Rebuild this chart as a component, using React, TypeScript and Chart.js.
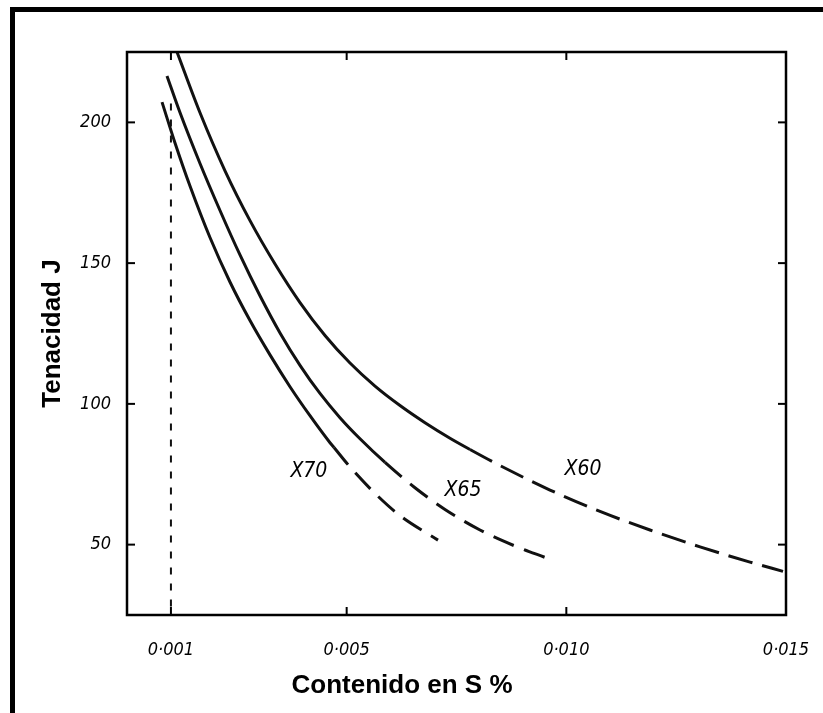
import React, { useEffect, useRef } from "react";
import { Chart, registerables } from "chart.js";

Chart.register(...registerables);

// ---- data ----
const X_TICKS = [0.001, 0.005, 0.01, 0.015];
const X_TICK_LABELS = ["0·001", "0·005", "0·010", "0·015"];
const Y_TICKS = [50, 100, 150, 200];
const Y_TICK_LABELS = ["50", "100", "150", "200"];

const X_TITLE = "Contenido en S %";
const Y_TITLE = "Tenacidad J";

const SERIES_NAMES = ["X70", "X65", "X60"];

const X70_S = [0.000797, 0.001093, 0.001434, 0.001889, 0.002344, 0.0028, 0.003255, 0.00371, 0.004165, 0.004621, 0.004712, 0.005076, 0.005645, 0.006214, 0.007079];
const X70_J = [207.2, 192.7, 177.4, 159.1, 143.3, 129.6, 117.4, 106.1, 95.8, 86.2, 84.5, 77.6, 68.2, 60.3, 51.6];

const X65_S = [0.00091, 0.001206, 0.001662, 0.002117, 0.002572, 0.003027, 0.003483, 0.003938, 0.004393, 0.004848, 0.005304, 0.005873, 0.006555, 0.007238, 0.008035, 0.008832, 0.00956];
const X65_J = [216.5, 203.5, 185.4, 168.7, 152.9, 138.4, 125.2, 113.7, 103.7, 95.1, 87.6, 79.2, 70.2, 62.5, 55.2, 49.5, 45.2];

const X60_S = [0.001138, 0.001662, 0.002231, 0.0028, 0.003369, 0.003938, 0.004507, 0.005076, 0.005645, 0.006214, 0.006783, 0.007352, 0.007807, 0.00849, 0.009628, 0.010766, 0.011904, 0.013043, 0.014181, 0.014932];
const X60_J = [225.0, 203.4, 182.8, 165.1, 149.7, 136.0, 124.3, 114.5, 106.3, 99.4, 93.3, 87.8, 83.8, 78.1, 69.4, 61.8, 55.2, 49.2, 43.8, 40.5];

// S value where each curve turns from solid to dashed
const SOLID_END = [0.00471, 0.00587, 0.0078];

// curve label anchors (data coordinates)
const LABEL_S = [0.00414, 0.00765, 0.01038];
const LABEL_J = [75.8, 69.3, 76.5];

// vertical dotted reference line at S = 0.001
const REF_S = [0.001, 0.001];
const REF_J = [28, 207];

const CURVES_S = [X70_S, X65_S, X60_S];
const CURVES_J = [X70_J, X65_J, X60_J];

const toPoints = (xs: number[], ys: number[]) => xs.map((x, i) => ({ x, y: ys[i] }));

const TICK_FONT = {
  family: "'Liberation Sans Narrow', 'DejaVu Sans Condensed', 'Liberation Sans', Arial, sans-serif",
  size: 18,
  style: "italic" as const,
};

const decorPlugin = {
  id: "decor",
  afterDatasetsDraw(chart: any) {
    const { ctx, chartArea: a, scales } = chart;
    const x = scales.x;
    const y = scales.y;
    const line = (x1: number, y1: number, x2: number, y2: number) => {
      ctx.beginPath();
      ctx.moveTo(x1, y1);
      ctx.lineTo(x2, y2);
      ctx.stroke();
    };
    ctx.save();
    ctx.strokeStyle = "#000";
    ctx.lineWidth = 2.5;
    ctx.strokeRect(a.left, a.top, a.right - a.left, a.bottom - a.top);
    ctx.lineWidth = 2;
    const TL = 8;
    X_TICKS.forEach((v) => {
      const px = x.getPixelForValue(v);
      line(px, a.bottom, px, a.bottom - TL);
      line(px, a.top, px, a.top + TL);
    });
    Y_TICKS.forEach((v) => {
      const py = y.getPixelForValue(v);
      line(a.left, py, a.left + TL, py);
      line(a.right, py, a.right - TL, py);
    });
    ctx.fillStyle = "#000";
    ctx.textAlign = "center";
    ctx.textBaseline = "middle";
    ctx.font = "italic 21px 'Liberation Sans Narrow', 'DejaVu Sans Condensed', 'Liberation Sans', Arial, sans-serif";
    SERIES_NAMES.forEach((n, i) => {
      ctx.fillText(n, x.getPixelForValue(LABEL_S[i]), y.getPixelForValue(LABEL_J[i]));
    });
    ctx.font = "bold 26px 'Liberation Sans', Arial, sans-serif";
    ctx.fillText(X_TITLE, 402, 686);
    ctx.translate(53, (a.top + a.bottom) / 2);
    ctx.rotate(-Math.PI / 2);
    ctx.fillText(Y_TITLE, 0, 0);
    ctx.restore();
  },
};

export default function App() {
  const ref = useRef<HTMLCanvasElement | null>(null);

  useEffect(() => {
    if (!ref.current) return;
    const curveSets = CURVES_S.map((s, i) => ({
      label: SERIES_NAMES[i],
      data: toPoints(s, CURVES_J[i]),
      borderColor: "#111",
      borderWidth: 3,
      pointRadius: 0,
      fill: false,
      cubicInterpolationMode: "monotone" as const,
      borderCapStyle: "butt" as const,
      segment: {
        borderDash: (c: any) => (c.p0.parsed.x >= SOLID_END[i] ? (i === 2 ? [25, 10] : [22, 11]) : undefined),
      },
    }));
    const chart = new Chart(ref.current, {
      type: "line",
      data: {
        datasets: [
          ...curveSets,
          {
            label: "ref",
            data: toPoints(REF_S, REF_J),
            borderColor: "#111",
            borderWidth: 2,
            borderDash: [7, 9],
            pointRadius: 0,
            fill: false,
          },
        ],
      },
      options: {
        animation: false,
        responsive: false,
        devicePixelRatio: 1,
        layout: { padding: { top: 52, right: 37, left: 0, bottom: 0 } },
        plugins: { legend: { display: false }, tooltip: { enabled: false } },
        scales: {
          x: {
            type: "linear",
            min: 0,
            max: 0.015,
            grid: { display: false, drawTicks: false },
            border: { display: false },
            afterBuildTicks: (s: any) => {
              s.ticks = X_TICKS.map((v) => ({ value: v }));
            },
            afterFit: (s: any) => {
              s.height = 98;
              s.paddingLeft = 0;
              s.paddingRight = 0;
            },
            ticks: {
              color: "#000",
              padding: 25,
              maxRotation: 0,
              autoSkip: false,
              font: TICK_FONT,
              callback: (v: any) => {
                const i = X_TICKS.findIndex((t) => Math.abs(t - Number(v)) < 1e-9);
                return i >= 0 ? X_TICK_LABELS[i] : "";
              },
            },
          },
          y: {
            type: "linear",
            min: 25,
            max: 225,
            grid: { display: false, drawTicks: false },
            border: { display: false },
            afterBuildTicks: (s: any) => {
              s.ticks = Y_TICKS.map((v) => ({ value: v }));
            },
            afterFit: (s: any) => {
              s.width = 127;
              s.paddingTop = 0;
              s.paddingBottom = 0;
            },
            ticks: {
              color: "#000",
              padding: 16,
              autoSkip: false,
              font: TICK_FONT,
              callback: (v: any) => {
                const i = Y_TICKS.indexOf(Number(v));
                return i >= 0 ? Y_TICK_LABELS[i] : "";
              },
            },
          },
        },
      },
      plugins: [decorPlugin],
    });
    return () => chart.destroy();
  }, []);

  return (
    <div style={{ position: "fixed", left: 0, top: 0, width: 823, height: 713, overflow: "hidden", background: "#fff" }}>
      <canvas ref={ref} width={823} height={713} style={{ position: "absolute", left: 0, top: 0, width: 823, height: 713 }} />
      <div
        style={{
          position: "absolute",
          left: 10,
          top: 7,
          width: 813,
          height: 706,
          boxSizing: "border-box",
          borderLeft: "5px solid #000",
          borderTop: "5px solid #000",
          pointerEvents: "none",
        }}
      />
    </div>
  );
}
